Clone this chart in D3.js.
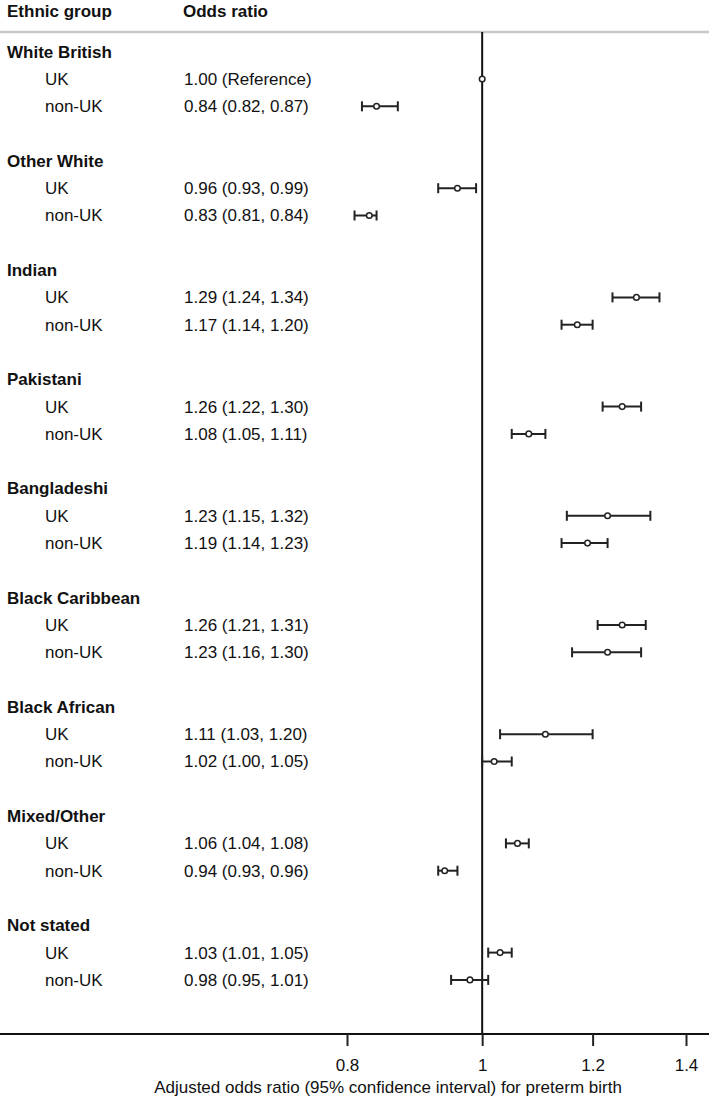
<!DOCTYPE html>
<html lang="en">

    <head>
        <meta charset="UTF-8">
        <title>Preterm birth by ethnic group</title>
        <script src="https://d3js.org/d3.v7.min.js"></script>
    </head>

    <style>
        body {
            margin: 0;
            background: #fff;
        }

        text {
            font-family: "Liberation Sans", Arial, sans-serif;
            font-size: 17px;
            fill: #111;
        }

        .bold {
            font-weight: bold;
        }
    </style>

    <body>

        <svg width="709" height="1104"></svg>

        <script>

            // ethnic groups, each with a UK-born and a non-UK-born row
            var groups = ["White British", "Other White", "Indian", "Pakistani", "Bangladeshi",
                          "Black Caribbean", "Black African", "Mixed/Other", "Not stated"];
            var subgroups = ["UK", "non-UK"];

            var ukOR  = [1.00, 0.96, 1.29, 1.26, 1.23, 1.26, 1.11, 1.06, 1.03];
            var ukLo  = [null, 0.93, 1.24, 1.22, 1.15, 1.21, 1.03, 1.04, 1.01];
            var ukHi  = [null, 0.99, 1.34, 1.30, 1.32, 1.31, 1.20, 1.08, 1.05];

            var nonOR = [0.84, 0.83, 1.17, 1.08, 1.19, 1.23, 1.02, 0.94, 0.98];
            var nonLo = [0.82, 0.81, 1.14, 1.05, 1.14, 1.16, 1.00, 0.93, 0.95];
            var nonHi = [0.87, 0.84, 1.20, 1.11, 1.23, 1.30, 1.05, 0.96, 1.01];

            var xTicks = [0.8, 1, 1.2, 1.4];

            var svg = d3.select("svg"),
                width = +svg.attr("width"),
                height = +svg.attr("height");

            var axisY = 1034,
                headerLineY = 32;

            var x = d3.scaleLog()
                .domain([0.8, 1.4])
                .range([347, 686]);

            // 4 rows per group: heading, UK, non-UK, blank
            var y = d3.scaleLinear()
                .domain([0, 35])
                .range([51.7, 51.7 + 27.3 * 35]);

            var fmt = d3.format(".2f");

            var rows = [];
            groups.forEach(function(g, i) {
                rows.push({kind: "head", label: g, row: i * 4});
                rows.push({kind: "sub", label: subgroups[0], row: i * 4 + 1,
                           or: ukOR[i], lo: ukLo[i], hi: ukHi[i]});
                rows.push({kind: "sub", label: subgroups[1], row: i * 4 + 2,
                           or: nonOR[i], lo: nonLo[i], hi: nonHi[i]});
            });

            // header
            svg.append("text").attr("class", "bold").attr("x", 7).attr("y", 17).text("Ethnic group");
            svg.append("text").attr("class", "bold").attr("x", 183).attr("y", 17).text("Odds ratio");

            svg.append("line")
                .attr("x1", 0).attr("x2", width)
                .attr("y1", headerLineY).attr("y2", headerLineY)
                .style("stroke", "#c8c8c8")
                .style("stroke-width", 2.5);

            // reference line at 1
            svg.append("line")
                .attr("x1", x(1)).attr("x2", x(1))
                .attr("y1", headerLineY).attr("y2", axisY)
                .style("stroke", "#111")
                .style("stroke-width", 2);

            // labels
            var labels = svg.append("g");

            labels.selectAll("text.grp")
                .data(rows.filter(function(d) { return d.kind == "head"; }))
                .enter().append("text")
                .attr("class", "grp bold")
                .attr("x", 7)
                .attr("y", function(d) { return y(d.row); })
                .attr("dy", "0.35em")
                .text(function(d) { return d.label; });

            var subs = rows.filter(function(d) { return d.kind == "sub"; });

            labels.selectAll("text.sub")
                .data(subs)
                .enter().append("text")
                .attr("class", "sub")
                .attr("x", 45)
                .attr("y", function(d) { return y(d.row); })
                .attr("dy", "0.35em")
                .text(function(d) { return d.label; });

            labels.selectAll("text.val")
                .data(subs)
                .enter().append("text")
                .attr("class", "val")
                .attr("x", 184)
                .attr("y", function(d) { return y(d.row); })
                .attr("dy", "0.35em")
                .text(function(d) {
                    if (d.lo == null) return fmt(d.or) + " (Reference)";
                    return fmt(d.or) + " (" + fmt(d.lo) + ", " + fmt(d.hi) + ")";
                });

            // confidence intervals
            var ci = svg.append("g")
                .selectAll("g")
                .data(subs.filter(function(d) { return d.lo != null; }))
                .enter().append("g")
                .style("stroke", "#222")
                .style("stroke-width", 2);

            ci.append("line")
                .attr("x1", function(d) { return x(d.lo); })
                .attr("x2", function(d) { return x(d.hi); })
                .attr("y1", function(d) { return y(d.row); })
                .attr("y2", function(d) { return y(d.row); });

            ci.append("line")
                .attr("x1", function(d) { return x(d.lo); })
                .attr("x2", function(d) { return x(d.lo); })
                .attr("y1", function(d) { return y(d.row) - 5; })
                .attr("y2", function(d) { return y(d.row) + 5; });

            ci.append("line")
                .attr("x1", function(d) { return x(d.hi); })
                .attr("x2", function(d) { return x(d.hi); })
                .attr("y1", function(d) { return y(d.row) - 5; })
                .attr("y2", function(d) { return y(d.row) + 5; });

            // point estimates
            svg.append("g")
                .selectAll("circle")
                .data(subs)
                .enter().append("circle")
                .attr("cx", function(d) { return x(d.or); })
                .attr("cy", function(d) { return y(d.row); })
                .attr("r", 2.8)
                .style("fill", "#fff")
                .style("stroke", "#222")
                .style("stroke-width", 1.5);

            // x axis
            svg.append("line")
                .attr("x1", 0).attr("x2", width)
                .attr("y1", axisY).attr("y2", axisY)
                .style("stroke", "#111")
                .style("stroke-width", 2);

            var xAxis = svg.append("g")
                .attr("transform", "translate(0," + axisY + ")")
                .call(d3.axisBottom(x)
                    .tickValues(xTicks)
                    .tickFormat(d3.format("~g"))
                    .tickSize(12)
                    .tickSizeOuter(0)
                    .tickPadding(13));

            xAxis.select(".domain").remove();
            xAxis.selectAll(".tick line").style("stroke", "#222").style("stroke-width", 2);
            xAxis.selectAll(".tick text")
                .style("font-family", "'Liberation Sans', Arial, sans-serif")
                .style("font-size", "17px")
                .style("fill", "#111");

            svg.append("text")
                .attr("x", 388)
                .attr("y", 1093)
                .attr("text-anchor", "middle")
                .text("Adjusted odds ratio (95% confidence interval) for preterm birth");

        </script>
    </body>
</html>
